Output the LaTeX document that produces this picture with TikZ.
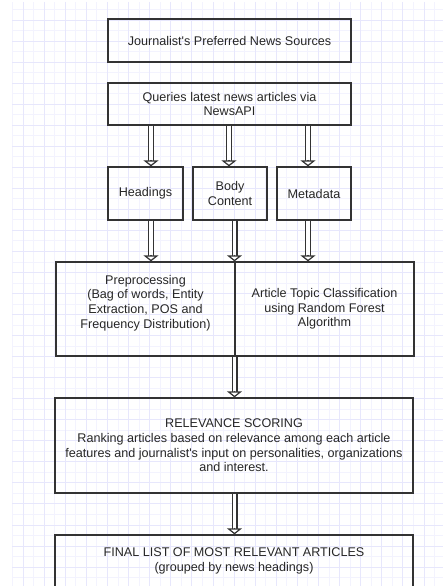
\documentclass[tikz,border=0pt]{standalone}
\usepackage{fontspec}
\setmainfont{Liberation Sans}
\usetikzlibrary{arrows.meta,calc}

\definecolor{boxline}{HTML}{333333}
\definecolor{gridmin}{HTML}{F3F3FE}
\definecolor{gridmaj}{HTML}{E7E7FC}

\tikzset{
  box/.style={rectangle, draw=boxline, line width=1.3pt, inner sep=0pt, align=center,
    font=\fontsize{12.6}{14.7}\selectfont, text=black!85},
  dbl/.style={draw=boxline, line width=1.3pt, double=white, double distance=3.4pt, shorten >=5pt},
  tip/.style={draw=boxline, line width=1.2pt, -{Triangle[width=15pt,length=6pt,fill=white]}},
}

\begin{document}
\begin{tikzpicture}[x=1pt,y=-1pt]
  \useasboundingbox (0,0) rectangle (443,586);
  \clip (0,0) rectangle (443,586);

  % grid paper
  \begin{scope}
    \clip (12,2) rectangle (443,586);
    \foreach \i in {0,...,41}
      \draw[gridmin, line width=0.9pt] ({12.5+10.55*\i},2) -- ({12.5+10.55*\i},586);
    \foreach \j in {0,...,55}
      \draw[gridmin, line width=0.9pt] (12,{9.5+10.52*\j}) -- (443,{9.5+10.52*\j});
    \foreach \i in {1,3,...,41}
      \draw[gridmaj, line width=0.9pt] ({12.5+10.55*\i},2) -- ({12.5+10.55*\i},586);
    \foreach \j in {1,3,...,55}
      \draw[gridmaj, line width=0.9pt] (12,{9.5+10.52*\j}) -- (443,{9.5+10.52*\j});
  \end{scope}

  \node[box, minimum width=243, minimum height=43] (src) at (229.5,40.5) {Journalist\textquotesingle s Preferred News Sources};
  \node[box, minimum width=243, minimum height=42] (qry) at (229.5,104) {Queries latest news articles via\\NewsAPI};
  \node[box, minimum width=75, minimum height=53] (head) at (145.5,193.5) {Headings};
  \node[box, minimum width=74, minimum height=53] (body) at (230,193.5) {Body\\Content};
  \node[box, minimum width=74, minimum height=53] (meta) at (314,193.5) {Metadata};
  \node[box, minimum width=179, minimum height=94] (prep) at (145.5,309) {Preprocessing\\(Bag of words, Entity\\Extraction, POS and\\Frequency Distribution)\\ \mbox{}};
  \node[box, minimum width=179, minimum height=94] (topic) at (324.5,309) {Article Topic Classification\\using Random Forest\\Algorithm};
  \node[box, minimum width=358, minimum height=95] (rel) at (234,445.5) {RELEVANCE SCORING\\Ranking articles based on relevance among each article\\features and journalist\textquotesingle s input on personalities, organizations\\and interest.};
  \node[box, minimum width=358, minimum height=52] (fin) at (234,561) {FINAL LIST OF MOST RELEVANT ARTICLES\\(grouped by news headings)};

  \coordinate (c1) at (151,0);
  \coordinate (c2) at (229,0);
  \coordinate (c3) at (308,0);
  \coordinate (c4) at (234.5,0);

  \foreach \from/\to/\col in {qry/head/c1,qry/body/c2,qry/meta/c3,head/prep/c1,body/prep/c4,meta/topic/c3,prep/rel/c4,rel/fin/c4}
  {
    \draw[dbl] (\from.south -| \col) -- (\to.north -| \col);
    \draw[tip] ($(\to.north -| \col)+(0,-6.5)$) -- (\to.north -| \col);
  }
\end{tikzpicture}
\end{document}
